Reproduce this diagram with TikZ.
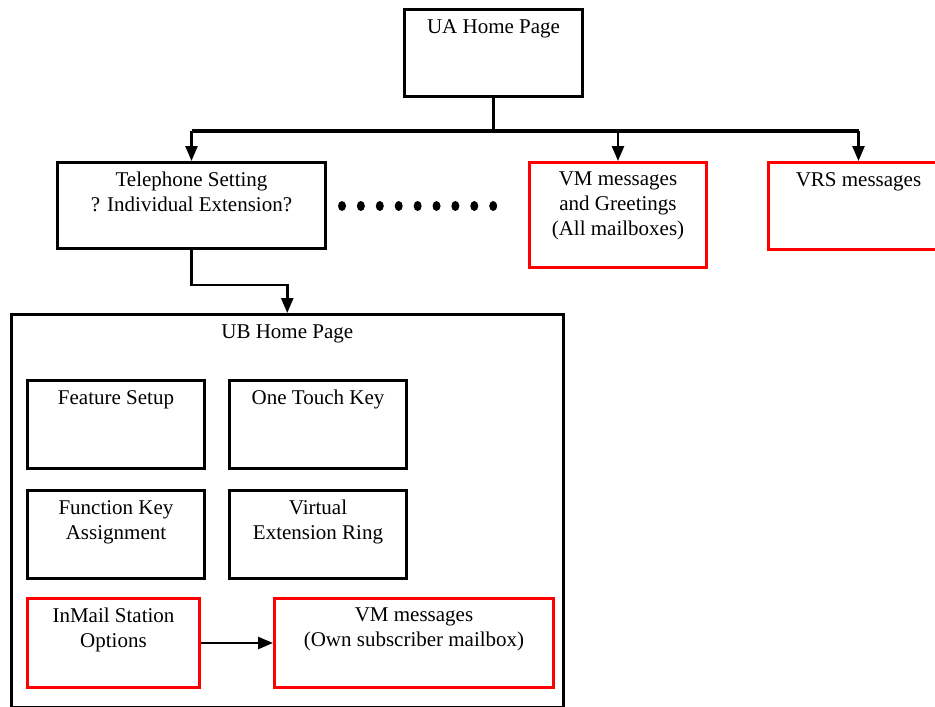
\documentclass[tikz,border=0pt]{standalone}
\usepackage{fontspec}
\setmainfont{Liberation Serif}
\usetikzlibrary{arrows.meta}

\tikzset{
  page/.style={draw, line width=3pt, anchor=north west, inner sep=0pt},
  redpage/.style={page, draw=red},
  title/.style={anchor=north, inner sep=0pt, yshift=-11pt, align=center,
    font=\fontsize{21}{25}\selectfont},
  conn/.style={line width=2.5pt},
  bus/.style={line width=3.5pt},
  arr/.style={line width=2.5pt, -{Triangle[width=12pt,length=15pt]}}
}

\begin{document}
\begin{tikzpicture}[x=1pt,y=-1pt]
  \useasboundingbox (0,0) rectangle (935,707);

  % top level
  \node[page, minimum width=178pt, minimum height=87pt,
    label={[title]north:UA Home Page}] (ua) at (403,8) {};
  \node[page, minimum width=268pt, minimum height=86pt,
    label={[title]north:{Telephone Setting\\? Individual Extension?}}] (tel) at (56,161) {};
  \node[redpage, minimum width=177pt, minimum height=105pt,
    label={[title]north:{VM messages\\and Greetings\\(All mailboxes)}}] (vmall) at (528,161) {};
  \node[redpage, minimum width=180pt, minimum height=87pt,
    label={[title]north:VRS messages}] (vrs) at (767,161) {};

  \draw[conn] (ua.south) -- ++(0,33) coordinate (bar);
  \draw[bus] (tel.north |- bar) -- (vrs.north |- bar);
  \draw[arr] (tel.north |- bar) -- (tel.north);
  \draw[arr] (vmall.north |- bar) -- (vmall.north);
  \draw[arr] (vrs.north |- bar) -- (vrs.north);

  \foreach \i in {0,...,8}
    \fill (342+18.9*\i,206) ellipse (4 and 5);

  % UB home page
  \node[page, line width=2.5pt, minimum width=552pt, minimum height=393pt,
    label={[title,yshift=-1pt]north:UB Home Page}] (ub) at (10,313) {};
  \draw[arr] (tel.south) -- ++(0,35) -| (ub.north);

  \node[page, minimum width=177pt, minimum height=88pt,
    label={[title]north:Feature Setup}] (feat) at (26,379) {};
  \node[page, minimum width=177pt, minimum height=88pt,
    label={[title]north:One Touch Key}] (otk) at (228,379) {};
  \node[page, minimum width=177pt, minimum height=88pt,
    label={[title]north:{Function Key\\Assignment}}] (fka) at (26,489) {};
  \node[page, minimum width=177pt, minimum height=88pt,
    label={[title]north:{Virtual\\Extension Ring}}] (ver) at (228,489) {};
  \node[redpage, minimum width=172pt, minimum height=89pt,
    label={[title]north:{InMail Station\\Options}}] (inm) at (26,597) {};
  \node[redpage, minimum width=279pt, minimum height=89pt,
    label={[title]north:{VM messages\\(Own subscriber mailbox)}}] (vmown) at (273,597) {};

  \draw[arr] (inm.east) -- (vmown.west);
\end{tikzpicture}
\end{document}
